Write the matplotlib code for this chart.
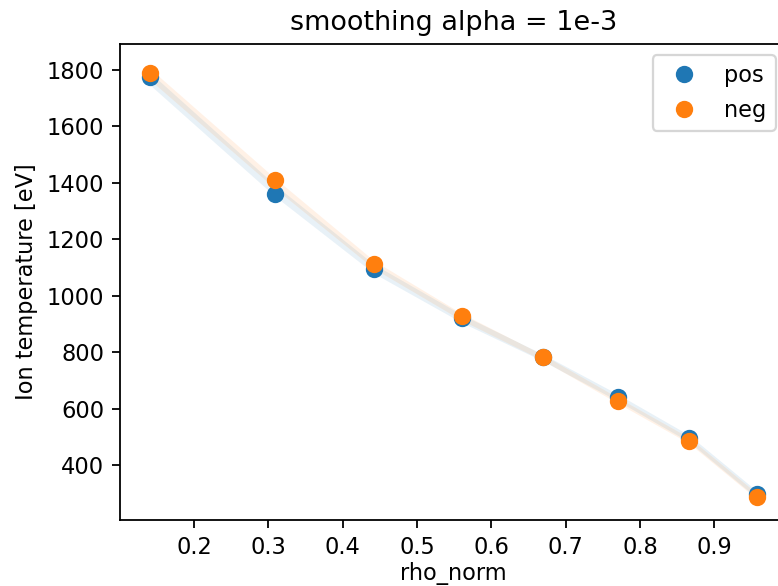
import matplotlib
matplotlib.use("Agg")
import matplotlib.pyplot as plt
import numpy as np

rho = [0.141, 0.309, 0.442, 0.560, 0.669, 0.770, 0.866, 0.957]
ti_pos = [1775, 1360, 1094, 920, 782, 640, 495, 297]
ti_neg = [1789, 1410, 1112, 927, 782, 627, 485, 287]
fit_pos = [1768, 1372, 1095, 919, 781, 639, 494, 296]
fit_neg = [1784, 1398, 1110, 925, 781, 629, 487, 290]
band_pos = [22, 20, 16, 14, 12, 12, 12, 12]
band_neg = [20, 18, 14, 12, 10, 10, 10, 10]

dpi = 162
fig = plt.figure(figsize=(778 / dpi, 586 / dpi), dpi=dpi)
ax = fig.add_axes([120 / 778, 1 - 520 / 586, 667 / 778, 476 / 586])

fp = np.array(fit_pos); fn = np.array(fit_neg)
ax.fill_between(rho, fp - np.array(band_pos), fp + np.array(band_pos), color="C0", alpha=0.1, lw=0)
ax.fill_between(rho, fn - np.array(band_neg), fn + np.array(band_neg), color="C1", alpha=0.1, lw=0)
ax.plot(rho, ti_pos, "o", color="C0", ms=6.7, label="pos")
ax.plot(rho, ti_neg, "o", color="C1", ms=6.7, label="neg")

ax.set_xticks([0.2, 0.3, 0.4, 0.5, 0.6, 0.7, 0.8, 0.9])
ax.set_yticks([400, 600, 800, 1000, 1200, 1400, 1600, 1800])
ax.set_ylim(205, 1892)
ax.set_xlabel("rho_norm", labelpad=1.5)
ax.set_ylabel("Ion temperature [eV]")
ax.set_title("smoothing alpha = 1e-3")
ax.legend(loc="upper right")

fig.savefig("out.png", dpi=dpi)
